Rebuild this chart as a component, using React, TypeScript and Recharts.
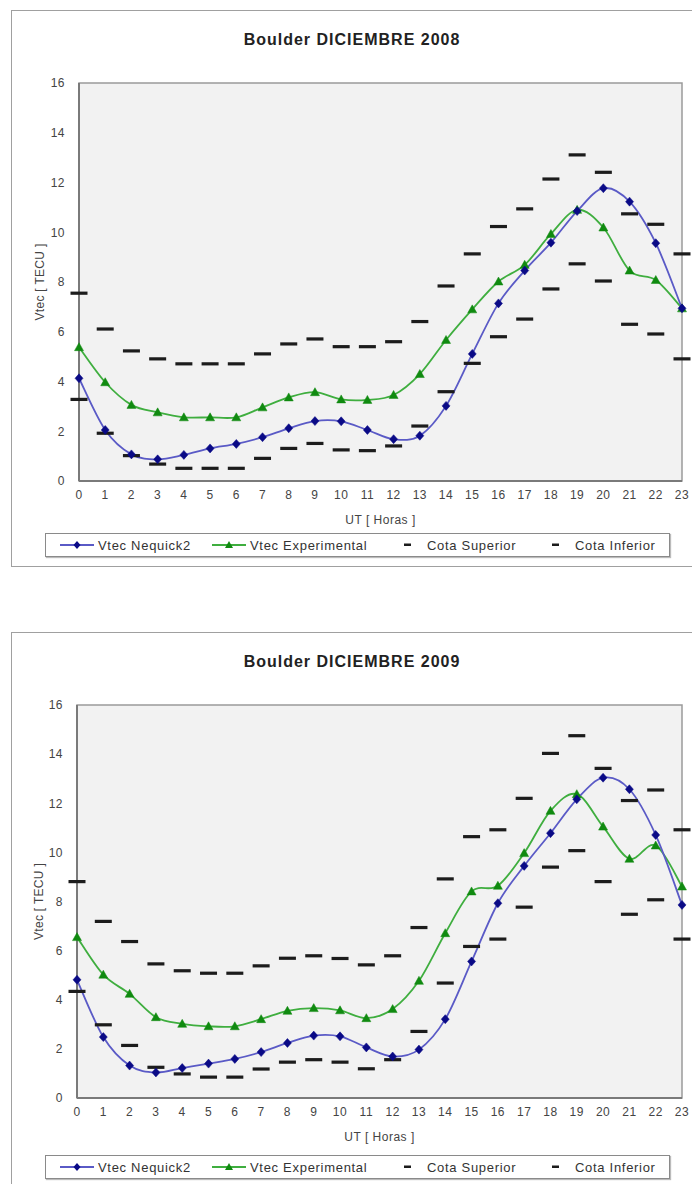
import React from 'react';
import { LineChart, Line, XAxis, YAxis, ReferenceArea } from 'recharts';

const hours = [0, 1, 2, 3, 4, 5, 6, 7, 8, 9, 10, 11, 12, 13, 14, 15, 16, 17, 18, 19, 20, 21, 22, 23];
const yTicks = [0, 2, 4, 6, 8, 10, 12, 14, 16];

// Boulder DICIEMBRE 2008
const neq2008 = [4.13, 2.05, 1.07, 0.87, 1.05, 1.31, 1.49, 1.76, 2.12, 2.41, 2.40, 2.05, 1.68, 1.82, 3.02, 5.11, 7.14, 8.46, 9.58, 10.85, 11.77, 11.23, 9.56, 6.94];
const exp2008 = [5.38, 3.97, 3.06, 2.76, 2.56, 2.56, 2.56, 2.96, 3.36, 3.57, 3.28, 3.26, 3.46, 4.30, 5.67, 6.90, 8.02, 8.69, 9.93, 10.90, 10.19, 8.46, 8.08, 6.94];
const sup2008 = [7.55, 6.11, 5.23, 4.91, 4.71, 4.71, 4.71, 5.11, 5.51, 5.71, 5.40, 5.40, 5.60, 6.41, 7.84, 9.13, 10.23, 10.94, 12.14, 13.11, 12.41, 10.74, 10.32, 9.13];
const inf2008 = [3.28, 1.92, 1.02, 0.68, 0.51, 0.51, 0.51, 0.91, 1.31, 1.51, 1.25, 1.22, 1.41, 2.21, 3.59, 4.73, 5.80, 6.51, 7.72, 8.73, 8.04, 6.30, 5.91, 4.91];

// Boulder DICIEMBRE 2009
const neq2009 = [4.81, 2.48, 1.32, 1.04, 1.22, 1.40, 1.59, 1.87, 2.24, 2.54, 2.51, 2.06, 1.69, 1.97, 3.21, 5.56, 7.93, 9.45, 10.78, 12.16, 13.04, 12.57, 10.71, 7.86];
const exp2009 = [6.55, 5.02, 4.24, 3.29, 3.02, 2.92, 2.92, 3.21, 3.55, 3.66, 3.57, 3.25, 3.62, 4.77, 6.71, 8.41, 8.64, 9.97, 11.69, 12.37, 11.05, 9.74, 10.28, 8.61];
const sup2009 = [8.81, 7.19, 6.37, 5.46, 5.18, 5.08, 5.08, 5.38, 5.69, 5.79, 5.68, 5.42, 5.79, 6.94, 8.92, 10.64, 10.92, 12.20, 14.03, 14.75, 13.42, 12.11, 12.54, 10.92];
const inf2009 = [4.34, 2.98, 2.14, 1.25, 0.98, 0.85, 0.85, 1.18, 1.46, 1.56, 1.46, 1.19, 1.56, 2.71, 4.68, 6.17, 6.47, 7.77, 9.40, 10.07, 8.81, 7.48, 8.07, 6.47];

const seriesNames = ['Vtec Nequick2', 'Vtec Experimental', 'Cota Superior', 'Cota Inferior'];

const FONT = '"Liberation Sans", Arial, sans-serif';
const BLUE_LINE = '#5a5ac6';
const BLUE_DOT = '#0a0a86';
const GREEN_LINE = '#3fae3f';
const GREEN_DOT = '#108a10';
const DASH = '#1c1c1c';

// Excel-like smoothed curve (Catmull-Rom style bezier)
function excelCurve(context: any) {
  let pts: number[][] = [];
  return {
    areaStart() {},
    areaEnd() {},
    lineStart() {
      pts = [];
    },
    point(x: number, y: number) {
      pts.push([+x, +y]);
    },
    lineEnd() {
      if (!pts.length) return;
      context.moveTo(pts[0][0], pts[0][1]);
      for (let i = 0; i < pts.length - 1; i++) {
        const p0 = pts[i - 1] || pts[i];
        const p1 = pts[i];
        const p2 = pts[i + 1];
        const p3 = pts[i + 2] || pts[i + 1];
        context.bezierCurveTo(
          p1[0] + (p2[0] - p0[0]) / 6,
          p1[1] + (p2[1] - p0[1]) / 6,
          p2[0] - (p3[0] - p1[0]) / 6,
          p2[1] - (p3[1] - p1[1]) / 6,
          p2[0],
          p2[1]
        );
      }
    },
  };
}

const Diamond = (props: any) => {
  const { cx, cy } = props;
  if (cx == null || cy == null) return null;
  return <path d={`M${cx},${cy - 4.5}L${cx + 4},${cy}L${cx},${cy + 4.5}L${cx - 4},${cy}Z`} fill={BLUE_DOT} stroke={BLUE_DOT} strokeWidth={0.5} />;
};

const Triangle = (props: any) => {
  const { cx, cy } = props;
  if (cx == null || cy == null) return null;
  return <path d={`M${cx},${cy - 4.5}L${cx + 4.5},${cy + 3.5}L${cx - 4.5},${cy + 3.5}Z`} fill={GREEN_DOT} stroke={GREEN_DOT} strokeWidth={0.5} />;
};

const Dash = (props: any) => {
  const { cx, cy } = props;
  if (cx == null || cy == null) return null;
  return <rect x={cx - 8.5} y={cy - 1.6} width={17} height={3.2} fill={DASH} />;
};

type ChartProps = {
  top: number;
  title: string;
  neq: number[];
  exp: number[];
  sup: number[];
  inf: number[];
  plotLeft: number;
  plotBottom: number;
  frameHeight: number;
  legendTop: number;
  xLabelDy: number;
};

const LegendBox = ({ top }: { top: number }) => {
  const textStyle: React.CSSProperties = {
    position: 'absolute',
    top: 4,
    fontSize: 13,
    letterSpacing: 0.7,
    color: '#333',
    fontFamily: FONT,
    whiteSpace: 'nowrap',
  };
  return (
    <div
      style={{
        position: 'absolute',
        left: 45,
        top,
        width: 623,
        height: 22,
        border: '1px solid #8a8a8a',
        boxShadow: '1px 1px 1px #bbb',
        background: '#fff',
      }}
    >
      <svg style={{ position: 'absolute', left: 0, top: 0 }} width={623} height={22}>
        <line x1={14} x2={48} y1={11} y2={11} stroke={BLUE_LINE} strokeWidth={2} />
        <path d="M31,7L34.5,11L31,15L27.5,11Z" fill={BLUE_DOT} />
        <line x1={166} x2={200} y1={11} y2={11} stroke={GREEN_LINE} strokeWidth={2} />
        <path d="M183,7L187,14L179,14Z" fill={GREEN_DOT} />
        <rect x={358} y={9.5} width={7} height={2.5} fill={DASH} />
        <rect x={506} y={9.5} width={7} height={2.5} fill={DASH} />
      </svg>
      <span style={{ ...textStyle, left: 52 }}>{seriesNames[0]}</span>
      <span style={{ ...textStyle, left: 204 }}>{seriesNames[1]}</span>
      <span style={{ ...textStyle, left: 381 }}>{seriesNames[2]}</span>
      <span style={{ ...textStyle, left: 529 }}>{seriesNames[3]}</span>
    </div>
  );
};

const Chart = (p: ChartProps) => {
  const data = hours.map((h, i) => ({ h, neq: p.neq[i], exp: p.exp[i], sup: p.sup[i], inf: p.inf[i] }));
  const H = 600;
  const xAxisH = 30;
  const plotTop = 83;
  const plotRight = 682;
  const tick = { fontSize: 12, fill: '#444', fontFamily: FONT, letterSpacing: 0.5 };
  return (
    <div style={{ position: 'absolute', left: 0, top: p.top, width: 692, height: H }}>
      <div
        style={{
          position: 'absolute',
          left: 11,
          top: 10,
          width: 720,
          height: p.frameHeight,
          border: '1.5px solid #a0a0a0',
          boxSizing: 'border-box',
        }}
      />
      <div
        style={{
          position: 'absolute',
          left: 0,
          width: 704,
          top: 31,
          textAlign: 'center',
          fontFamily: FONT,
          fontWeight: 'bold',
          fontSize: 16,
          letterSpacing: 1,
          color: '#222',
        }}
      >
        {p.title}
      </div>
      <div style={{ position: 'absolute', left: 0, top: 0 }}>
        <LineChart
          width={692}
          height={H}
          data={data}
          margin={{ top: plotTop, right: 692 - plotRight, left: 0, bottom: H - p.plotBottom - xAxisH }}
        >
          <XAxis
            dataKey="h"
            type="number"
            domain={[0, 23]}
            ticks={hours}
            interval={0}
            height={xAxisH}
            tick={tick}
            tickLine={false}
            tickSize={6}
            tickMargin={3}
            axisLine={{ stroke: '#7a7a7a', strokeWidth: 2 }}
            label={{ value: 'UT [ Horas ]', position: 'center', dy: p.xLabelDy, fontSize: 12, fill: '#444', fontFamily: FONT, letterSpacing: 0.5 }}
          />
          <YAxis
            type="number"
            domain={[0, 16]}
            ticks={yTicks}
            width={p.plotLeft}
            tick={tick}
            tickLine={false}
            tickSize={6}
            tickMargin={8}
            axisLine={{ stroke: '#7a7a7a', strokeWidth: 2 }}
            label={{ value: 'Vtec [ TECU ]', angle: -90, position: 'center', dx: 0, fontSize: 12, fill: '#444', fontFamily: FONT, letterSpacing: 0.3 }}
          />
          <ReferenceArea x1={0} x2={23} y1={0} y2={16} fill="#f2f2f2" fillOpacity={1} stroke="#9a9a9a" strokeWidth={1.5} />
          <Line
            dataKey="sup"
            name={seriesNames[2]}
            stroke="none"
            dot={<Dash />}
            activeDot={false}
            isAnimationActive={false}
          />
          <Line
            dataKey="inf"
            name={seriesNames[3]}
            stroke="none"
            dot={<Dash />}
            activeDot={false}
            isAnimationActive={false}
          />
          <Line
            dataKey="exp"
            name={seriesNames[1]}
            type={excelCurve as any}
            stroke={GREEN_LINE}
            strokeWidth={1.8}
            dot={<Triangle />}
            activeDot={false}
            isAnimationActive={false}
          />
          <Line
            dataKey="neq"
            name={seriesNames[0]}
            type={excelCurve as any}
            stroke={BLUE_LINE}
            strokeWidth={1.8}
            dot={<Diamond />}
            activeDot={false}
            isAnimationActive={false}
          />
        </LineChart>
      </div>
      <LegendBox top={p.legendTop} />
    </div>
  );
};

export default function App() {
  return (
    <div style={{ position: 'absolute', left: 0, top: 0, width: 692, height: 1184, overflow: 'hidden', background: '#fff' }}>
      <Chart
        top={0}
        title="Boulder DICIEMBRE 2008"
        neq={neq2008}
        exp={exp2008}
        sup={sup2008}
        inf={inf2008}
        plotLeft={79}
        plotBottom={481}
        frameHeight={557}
        legendTop={533}
        xLabelDy={24}
      />
      <Chart
        top={622}
        title="Boulder DICIEMBRE 2009"
        neq={neq2009}
        exp={exp2009}
        sup={sup2009}
        inf={inf2009}
        plotLeft={77}
        plotBottom={476}
        frameHeight={600}
        legendTop={533}
        xLabelDy={24}
      />
    </div>
  );
}
